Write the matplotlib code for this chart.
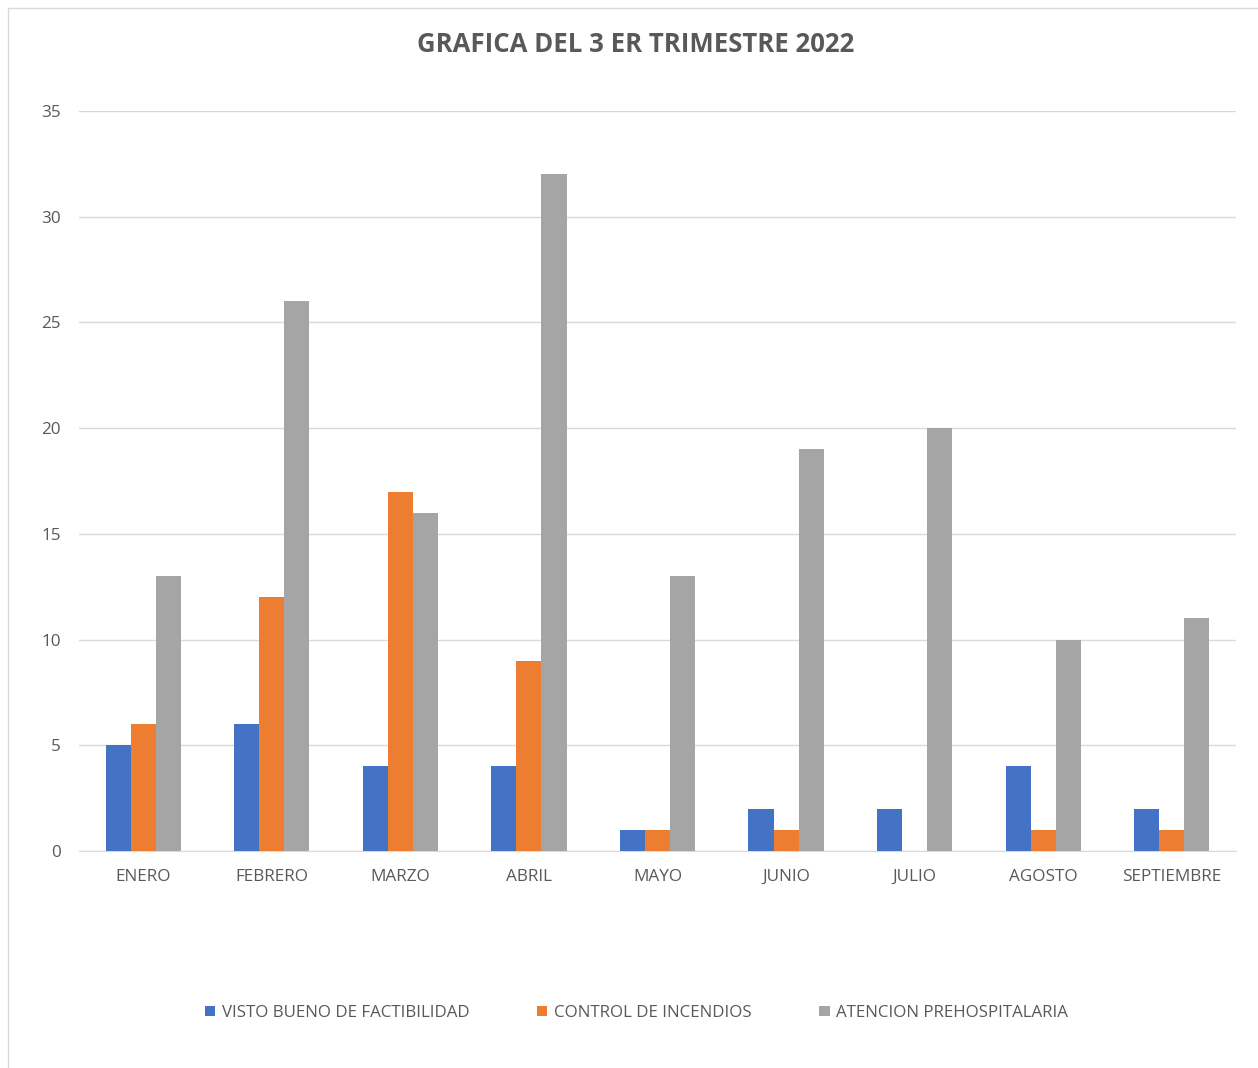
import numpy as np
import matplotlib.pyplot as plt
from matplotlib.patches import Rectangle

# data
meses = ["ENERO", "FEBRERO", "MARZO", "ABRIL", "MAYO", "JUNIO",
         "JULIO", "AGOSTO", "SEPTIEMBRE"]
visto_bueno = [5, 6, 4, 4, 1, 2, 2, 4, 2]
control_incendios = [6, 12, 17, 9, 1, 1, 0, 1, 1]
atencion_prehosp = [13, 26, 16, 32, 13, 19, 20, 10, 11]
series_names = ["VISTO BUENO DE FACTIBILIDAD", "CONTROL DE INCENDIOS",
                "ATENCION PREHOSPITALARIA"]
colors = ["#4472C4", "#ED7D31", "#A5A5A5"]
yticks = [0, 5, 10, 15, 20, 25, 30, 35]

plt.rcParams["font.family"] = ["Open Sans", "DejaVu Sans"]
text_gray = "#595959"

fig = plt.figure(figsize=(12.58, 10.68), dpi=100)
fig.patches.append(Rectangle((8 / 1258, -0.01), 1.0, 1 - 8 / 1068 + 0.01,
                             transform=fig.transFigure, fill=False,
                             edgecolor="#D9D9D9", linewidth=1))
ax = fig.add_axes([0.0628, 0.2032, 0.9197, 0.6929])

x = np.arange(len(meses))
w = 0.195
for i, (vals, name, c) in enumerate(zip(
        [visto_bueno, control_incendios, atencion_prehosp], series_names, colors)):
    ax.bar(x + (i - 1) * w, vals, width=w, color=c, label=name, zorder=3)

ax.set_xlim(-0.5, len(meses) - 0.5)
ax.set_ylim(0, 35)
ax.set_yticks(yticks)
ax.set_xticks(x)
ax.set_xticklabels(meses)
ax.tick_params(axis="both", length=0, colors=text_gray, labelsize=12.3)
ax.tick_params(axis="y", pad=13)
ax.tick_params(axis="x", pad=13)
ax.grid(axis="y", color="#D9D9D9", linewidth=1, zorder=0)
for s in ["top", "right", "left"]:
    ax.spines[s].set_visible(False)
ax.spines["bottom"].set_color("#D9D9D9")

fig.text(0.505, 1 - 44 / 1068, "GRAFICA DEL 3 ER TRIMESTRE 2022",
         ha="center", va="center", fontsize=18.5, fontweight="bold",
         color=text_gray)

fig.legend(loc="center", bbox_to_anchor=(0.506, 1 - 1013 / 1068), ncol=3,
           frameon=False, handlelength=0.6, handleheight=0.6,
           handletextpad=0.4, columnspacing=4.0, fontsize=12.2,
           labelcolor=text_gray)

fig.savefig("out.png", dpi=100, facecolor="white")
